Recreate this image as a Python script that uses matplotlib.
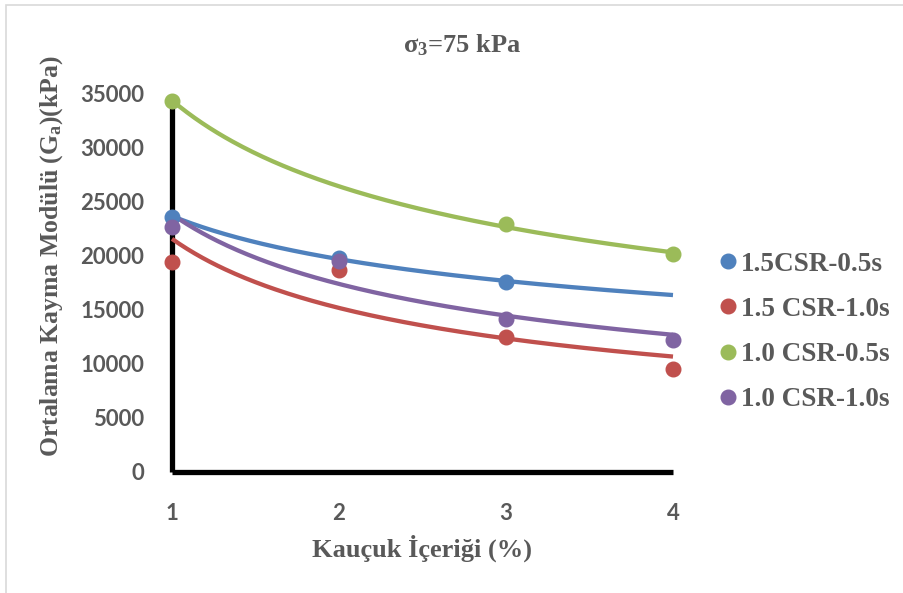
import numpy as np
import matplotlib
matplotlib.use("Agg")
import matplotlib.pyplot as plt
from matplotlib.lines import Line2D
from matplotlib.patches import Rectangle

# Rubber content (%) and mean shear modulus Ga (kPa) for each loading case
x_blue = [1, 2, 3]
y_blue = [23650, 19830, 17620]          # 1.5CSR-0.5s
x_red = [1, 2, 3, 4]
y_red = [19430, 18660, 12520, 9550]     # 1.5 CSR-1.0s
x_green = [1, 3, 4]
y_green = [34320, 22960, 20140]         # 1.0 CSR-0.5s
x_purple = [1, 2, 3, 4]
y_purple = [22650, 19520, 14150, 12220] # 1.0 CSR-1.0s

labels = ["1.5CSR-0.5s", "1.5 CSR-1.0s", "1.0 CSR-0.5s", "1.0 CSR-1.0s"]
colors = ["#4F81BD", "#C0504D", "#9BBB59", "#8064A2"]
x_ticks = [1, 2, 3, 4]
y_ticks = [0, 5000, 10000, 15000, 20000, 25000, 30000, 35000]

series = [(x_blue, y_blue), (x_red, y_red), (x_green, y_green), (x_purple, y_purple)]

plt.rcParams["mathtext.fontset"] = "custom"
plt.rcParams["mathtext.rm"] = "Liberation Serif:bold"
plt.rcParams["mathtext.bf"] = "Liberation Serif:bold"
plt.rcParams["mathtext.it"] = "Liberation Serif:bold"
plt.rcParams["mathtext.default"] = "rm"

text_gray = "#595959"
serif = ["Liberation Serif", "DejaVu Serif"]
sans = ["Lato", "DejaVu Sans"]

fig = plt.figure(figsize=(9.04, 5.93), dpi=100)
ax = fig.add_axes([172 / 904, 1 - 472 / 593, 501 / 904, 378 / 593])

# outer chart frame
fig.patches.append(Rectangle((6 / 904, -0.05), 1.2, 1.05 - 5 / 593, transform=fig.transFigure,
                             fill=False, edgecolor="#D9D9D9", linewidth=1.2))

xs = np.linspace(1, 4, 200)
for (xv, yv), c in zip(series, colors):
    # power trendline y = a * x^b fitted in log space
    b, ln_a = np.polyfit(np.log(xv), np.log(yv), 1)
    ax.plot(xs, np.exp(ln_a) * xs ** b, color=c, linewidth=3.1, solid_capstyle="butt",
            zorder=3, clip_on=False)
    ax.plot(xv, yv, linestyle="none", marker="o", markersize=10.5, color=c,
            zorder=4, clip_on=False)

ax.set_xlim(1, 4)
ax.set_ylim(0, 35000)
ax.set_xticks(x_ticks)
ax.set_yticks(y_ticks)
ax.set_xticklabels([str(v) for v in x_ticks])
ax.set_yticklabels([str(v) for v in y_ticks])
for side in ("top", "right"):
    ax.spines[side].set_visible(False)
for side in ("left", "bottom"):
    ax.spines[side].set_linewidth(3.8)
    ax.spines[side].set_color("black")
    ax.spines[side].set_capstyle("butt")
ax.tick_params(length=0, labelsize=16, labelcolor=text_gray)
ax.tick_params(axis="y", pad=20)
ax.tick_params(axis="x", pad=22)
for lab in ax.get_xticklabels() + ax.get_yticklabels():
    lab.set_family(sans)
    lab.set_fontweight("bold")

ax.set_xlabel("Kauçuk İçeriği (%)", fontsize=19, fontweight="bold", color=text_gray,
              family=serif, labelpad=8)
ax.set_ylabel("Ortalama Kayma Modülü (G$_a$)(kPa)", fontsize=18.5, fontweight="bold",
              color=text_gray, family=serif)
ax.yaxis.set_label_coords(-0.213, 0.572)
fig.text(462 / 904, 1 - 45 / 593, "σ$_3$=75 kPa", fontsize=19, fontweight="bold",
         color=text_gray, family=serif, ha="center", va="center")

handles = [Line2D([], [], linestyle="none", marker="o", markersize=10.5, color=c) for c in colors]
leg = fig.legend(handles, labels, loc="center left", bbox_to_anchor=(696 / 904, 1 - 332 / 593),
                 frameon=False, handlelength=0.6, handletextpad=0.15, labelspacing=0.75,
                 prop={"family": serif, "weight": "bold", "size": 19.5})
for t in leg.get_texts():
    t.set_color(text_gray)

fig.savefig("out.png", dpi=100)
